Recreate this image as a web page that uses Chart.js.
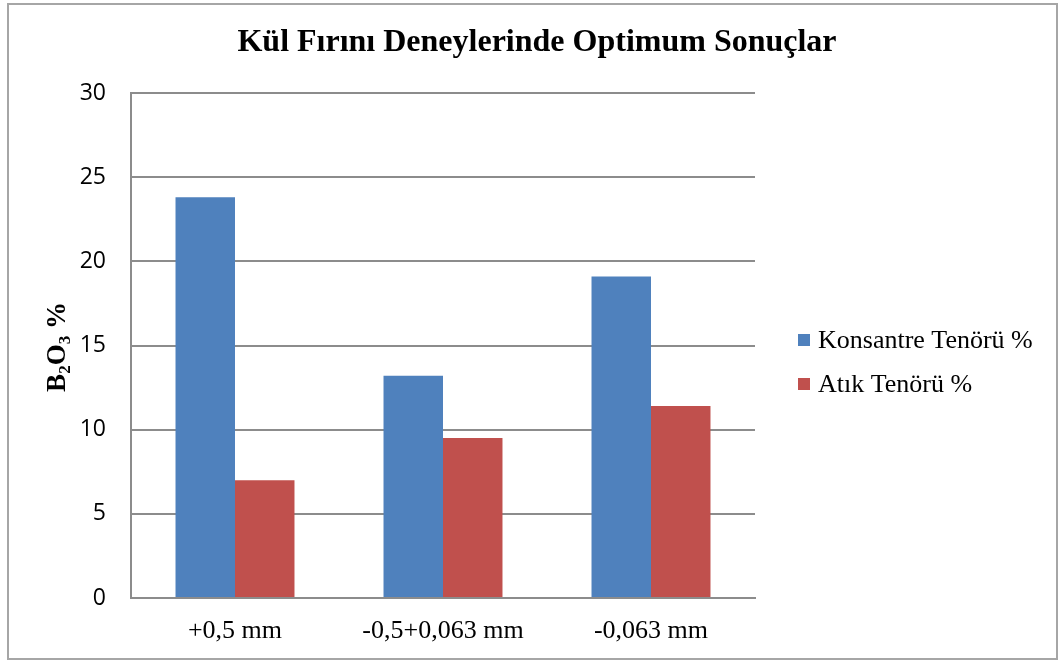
<!DOCTYPE html>
<html>
<head>
<meta charset="utf-8">
<script src="https://cdn.jsdelivr.net/npm/chart.js@4"></script>
<style>
  html, body { margin: 0; padding: 0; background: #fff; }
  #wrap { width: 1059px; height: 661px; position: relative; }
</style>
</head>
<body>
<div id="wrap"><canvas id="kulChart"></canvas></div>
<script>
// Kül fırını deneyleri - optimum sonuçlar
const categories = ['+0,5 mm', '-0,5+0,063 mm', '-0,063 mm'];
const konsantreTenoru = [23.8, 13.2, 19.1];
const atikTenoru = [7.0, 9.5, 11.4];
const seriesLabels = ['Konsantre Tenörü %', 'Atık Tenörü %'];
const yTicks = [0, 5, 10, 15, 20, 25, 30];

const serif = '"Liberation Serif", "Times New Roman", serif';
const sans = '"Open Sans", "Liberation Sans", sans-serif';
const gridGray = '#8c8c8c';

// title, legend, rotated axis title with subscripts, outer frame
const decorations = {
    id: 'decorations',
    afterDraw(chart) {
        const ctx = chart.ctx;
        ctx.save();

        // outer frame
        ctx.strokeStyle = '#a6a6a6';
        ctx.lineWidth = 2;
        ctx.strokeRect(8, 4, 1049, 655);

        // title
        ctx.fillStyle = '#000';
        ctx.font = 'bold 32px ' + serif;
        ctx.textAlign = 'center';
        ctx.textBaseline = 'middle';
        ctx.fillText('Kül Fırını Deneylerinde Optimum Sonuçlar', 537, 43);

        // legend
        ctx.textAlign = 'left';
        ctx.font = '26px ' + serif;
        chart.data.datasets.forEach((ds, i) => {
            const y = 340 + i * 44;
            ctx.fillStyle = ds.backgroundColor;
            ctx.fillRect(798, y - 6, 12, 12);
            ctx.fillStyle = '#000';
            ctx.fillText(ds.label, 818, y + 1);
        });

        // y axis title: B2O3 %
        ctx.translate(65, 347);
        ctx.rotate(-Math.PI / 2);
        const parts = [
            { t: 'B', sub: false },
            { t: '2', sub: true },
            { t: 'O', sub: false },
            { t: '3', sub: true },
            { t: ' %', sub: false }
        ];
        const bigFont = 'bold 27px ' + serif;
        const smallFont = 'bold 17px ' + serif;
        let total = 0;
        parts.forEach(p => {
            ctx.font = p.sub ? smallFont : bigFont;
            p.w = ctx.measureText(p.t).width;
            total += p.w;
        });
        let x = -total / 2;
        ctx.textAlign = 'left';
        ctx.textBaseline = 'alphabetic';
        parts.forEach(p => {
            ctx.font = p.sub ? smallFont : bigFont;
            ctx.fillText(p.t, x, p.sub ? 5 : 0);
            x += p.w;
        });
        ctx.restore();
    }
};

const ctx = document.getElementById('kulChart').getContext('2d');
new Chart(ctx, {
    type: 'bar',
    data: {
        labels: categories,
        datasets: [{
            label: seriesLabels[0],
            data: konsantreTenoru,
            backgroundColor: '#4f81bd',
            borderWidth: 0
        }, {
            label: seriesLabels[1],
            data: atikTenoru,
            backgroundColor: '#c0504d',
            borderWidth: 0
        }]
    },
    options: {
        responsive: true,
        maintainAspectRatio: false,
        animation: false,
        layout: {
            padding: { top: 93, right: 304, left: 0, bottom: 0 }
        },
        datasets: {
            bar: {
                categoryPercentage: 0.572,
                barPercentage: 1.0
            }
        },
        scales: {
            x: {
                grid: { display: false, drawTicks: false },
                border: { color: gridGray, width: 2 },
                ticks: {
                    color: '#000',
                    padding: 18,
                    font: { family: serif, size: 26 }
                },
                afterFit(scale) { scale.height = 63; }
            },
            y: {
                min: 0,
                max: 30,
                afterBuildTicks(scale) {
                    scale.ticks = yTicks.map(v => ({ value: v }));
                },
                grid: { color: gridGray, lineWidth: 2, drawTicks: false },
                border: { color: gridGray, width: 2 },
                ticks: {
                    color: '#000',
                    padding: 25,
                    font: { family: sans, size: 23 }
                },
                afterFit(scale) { scale.width = 131; }
            }
        },
        plugins: {
            legend: { display: false },
            title: { display: false },
            tooltip: { enabled: false }
        }
    },
    plugins: [decorations]
});
</script>
</body>
</html>
